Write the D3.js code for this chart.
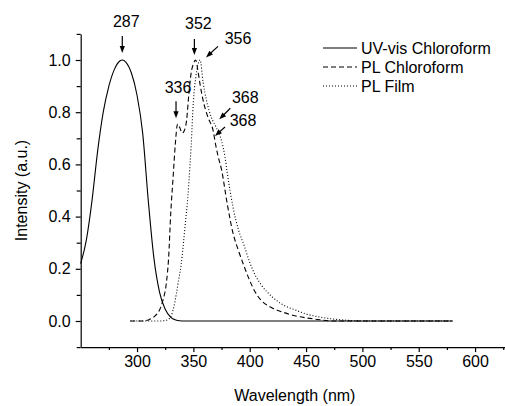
<!DOCTYPE html>
<html>
<head>
<meta charset="utf-8">
<script src="https://cdn.jsdelivr.net/npm/d3@7"></script>
<style>
  html, body { margin: 0; padding: 0; background: #fff; }
  svg { display: block; font-family: "Liberation Sans", Arial, sans-serif; }
  .axis path, .axis line { stroke: #000; stroke-width: 1.2; }
  .axis text { font-size: 16px; fill: #000; }
</style>
</head>
<body>
<svg id="chart" width="505" height="406"></svg>
<script>
// UV-vis absorption in chloroform
var uvWl  = [250, 255, 260, 265, 270, 275, 280, 285, 287, 290, 295, 300, 305, 310, 315, 320, 325, 330, 335, 340, 350, 400, 450, 500, 550, 580];
var uvInt = [0.22, 0.31, 0.46, 0.65, 0.80, 0.90, 0.965, 0.997, 1.0, 0.992, 0.95, 0.865, 0.72, 0.46, 0.24, 0.11, 0.045, 0.014, 0.003, 0, 0, 0, 0, 0, 0, 0];

// PL in chloroform
var plChWl  = [294, 300, 305, 310, 313, 316, 320, 323, 326, 328, 330, 332, 334, 336, 338, 340, 342, 344, 346, 348,
               350, 352, 354, 356, 358.6, 363, 367.5, 370, 372, 375, 380, 385, 390, 395, 400, 405, 410, 420, 430, 440,
               450, 460, 475, 500, 550, 580];
var plChInt = [0, 0, 0, 0.004, 0.01, 0.02, 0.042, 0.08, 0.145, 0.24, 0.42, 0.55, 0.68, 0.755, 0.74, 0.72, 0.73, 0.77, 0.87, 0.95,
               0.985, 1.0, 0.96, 0.905, 0.846, 0.78, 0.73, 0.67, 0.63, 0.58, 0.45, 0.34, 0.27, 0.21, 0.155, 0.11, 0.08, 0.05, 0.033, 0.02,
               0.012, 0.006, 0, 0, 0, 0];

// PL of the film
var plFilmWl  = [294, 300, 310, 320, 325, 329, 332, 335, 337, 339, 341, 343, 345, 346, 348, 350, 352, 354, 356, 358.6,
                 361.6, 366, 370.5, 375, 378, 380, 385, 390, 395, 400, 405, 410, 420, 430, 440, 450, 460, 475, 490, 500,
                 550, 580];
var plFilmInt = [0, 0, 0, 0, 0.002, 0.01, 0.042, 0.106, 0.16, 0.21, 0.29, 0.38, 0.47, 0.53, 0.67, 0.84, 0.93, 0.98, 1.0, 0.915,
                 0.846, 0.78, 0.74, 0.69, 0.63, 0.57, 0.44, 0.35, 0.29, 0.225, 0.175, 0.14, 0.092, 0.061, 0.043, 0.027, 0.017, 0.007, 0.002, 0,
                 0, 0];

var seriesNames = ["UV-vis Chloroform", "PL Chloroform", "PL Film"];

// peak annotations (arrow tip in data units)
var annotText = ["287", "336", "352", "356", "368", "368"];
var annotWl   = [286.9, 334.6, 350.9, 361.2, 373.0, 369.2];
var annotVal  = [1.027, 0.777, 1.019, 1.010, 0.773, 0.709];

var xTickLabels = [300, 350, 400, 450, 500, 550, 600];
var yTickLabels = [0.0, 0.2, 0.4, 0.6, 0.8, 1.0];

// arrow tail / label offsets from the tip, px
var annotLayout = [
    {tx: 0, ty: -17, lx: 4, ly: -26},
    {tx: 0, ty: -17, lx: 2, ly: -25},
    {tx: 0, ty: -16, lx: 4, ly: -26},
    {tx: 12, ty: -11, lx: 32, ly: -13},
    {tx: 11, ty: -11, lx: 26, ly: -16},
    {tx: 10, ty: -9, lx: 28, ly: -10}
];
var dashes = [null, "5,3", "1,2"];

var svg = d3.select("#chart");

var x = d3.scaleLinear().domain([250, 650]).range([80.7, 531.4]);
var y = d3.scaleLinear().domain([-0.1, 1.1]).range([347.1, 33.9]);

// axes
svg.append("g")
    .attr("class", "axis")
    .attr("transform", "translate(0," + y(-0.1) + ")")
    .call(d3.axisBottom(x).tickValues(d3.range(275, 650, 50)).tickSize(3).tickFormat(""))
    .call(function(g) { g.select(".domain").remove(); });
svg.append("g")
    .attr("class", "axis")
    .attr("transform", "translate(0," + y(-0.1) + ")")
    .call(d3.axisBottom(x).tickValues(xTickLabels).tickSize(5).tickSizeOuter(0).tickPadding(4)
        .tickFormat(d3.format("d")));

svg.append("g")
    .attr("class", "axis")
    .attr("transform", "translate(" + x(250) + ",0)")
    .call(d3.axisLeft(y).tickValues([-0.1, 0.1, 0.3, 0.5, 0.7, 0.9, 1.1]).tickSize(4).tickFormat(""))
    .call(function(g) { g.select(".domain").remove(); });
svg.append("g")
    .attr("class", "axis")
    .attr("transform", "translate(" + x(250) + ",0)")
    .call(d3.axisLeft(y).tickValues(yTickLabels).tickSize(5).tickSizeOuter(0).tickPadding(5)
        .tickFormat(d3.format(".1f")));

// axis titles
svg.append("text")
    .attr("x", (x(250) + 505) / 2 + 2)
    .attr("y", 401)
    .attr("text-anchor", "middle")
    .style("font-size", "16px")
    .text("Wavelength (nm)");

svg.append("text")
    .attr("transform", "translate(27," + (y(0.5)) + ") rotate(-90)")
    .attr("text-anchor", "middle")
    .style("font-size", "16px")
    .text("Intensity (a.u.)");

// curves
var line = d3.line()
    .x(function(d) { return x(d[0]); })
    .y(function(d) { return y(d[1]); })
    .curve(d3.curveMonotoneX);

var allSeries = [
    d3.zip(uvWl, uvInt),
    d3.zip(plChWl, plChInt),
    d3.zip(plFilmWl, plFilmInt)
];

svg.selectAll(".curve")
    .data(allSeries)
    .enter().append("path")
    .attr("class", "curve")
    .attr("fill", "none")
    .attr("stroke", "#000")
    .attr("stroke-width", 1.1)
    .attr("stroke-dasharray", function(d, i) { return dashes[i]; })
    .attr("d", line);

// legend
var legend = svg.selectAll(".legend")
    .data(seriesNames)
    .enter().append("g")
    .attr("class", "legend")
    .attr("transform", function(d, i) { return "translate(323," + (48 + i * 19) + ")"; });

legend.append("line")
    .attr("x1", 0).attr("x2", 34)
    .attr("stroke", "#000")
    .attr("stroke-width", 1.1)
    .attr("stroke-dasharray", function(d, i) { return dashes[i]; });

legend.append("text")
    .attr("x", 38)
    .attr("dy", "0.35em")
    .style("font-size", "16px")
    .text(function(d) { return d; });

// peak arrows
var ann = svg.selectAll(".annot")
    .data(annotText)
    .enter().append("g")
    .attr("class", "annot")
    .attr("transform", function(d, i) { return "translate(" + x(annotWl[i]) + "," + y(annotVal[i]) + ")"; });

ann.append("line")
    .attr("x1", function(d, i) { return annotLayout[i].tx; })
    .attr("y1", function(d, i) { return annotLayout[i].ty; })
    .attr("x2", function(d, i) { var a = annotLayout[i]; var l = Math.hypot(a.tx, a.ty); return a.tx * 5 / l; })
    .attr("y2", function(d, i) { var a = annotLayout[i]; var l = Math.hypot(a.tx, a.ty); return a.ty * 5 / l; })
    .attr("stroke", "#000")
    .attr("stroke-width", 1.2);

ann.append("path")
    .attr("d", function(d, i) {
        var a = annotLayout[i];
        var l = Math.hypot(a.tx, a.ty);
        var ux = a.tx / l, uy = a.ty / l;
        var bx = ux * 7, by = uy * 7;
        return "M0,0L" + (bx - uy * 2.6) + "," + (by + ux * 2.6) +
               "L" + (bx + uy * 2.6) + "," + (by - ux * 2.6) + "Z";
    })
    .attr("fill", "#000");

ann.append("text")
    .attr("x", function(d, i) { return annotLayout[i].lx; })
    .attr("y", function(d, i) { return annotLayout[i].ly; })
    .attr("text-anchor", "middle")
    .style("font-size", "16px")
    .text(function(d) { return d; });
</script>
</body>
</html>
